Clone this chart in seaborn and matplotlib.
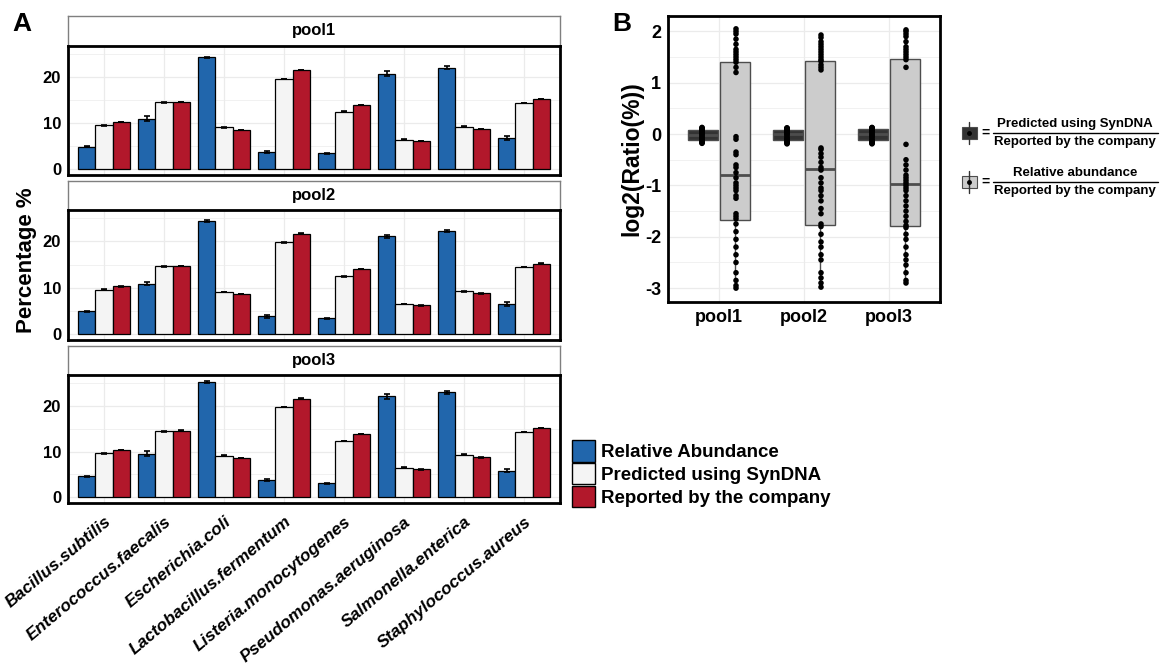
import numpy as np
import pandas as pd
import matplotlib
matplotlib.use('Agg')
import matplotlib.pyplot as plt
from matplotlib.patches import Rectangle
from matplotlib.lines import Line2D
import seaborn as sns

sns.set_style('white')
plt.rcParams['font.family'] = ['Liberation Sans', 'DejaVu Sans']
plt.rcParams['font.weight'] = 'bold'
plt.rcParams['text.color'] = 'black'
plt.rcParams['axes.labelcolor'] = 'black'
plt.rcParams['xtick.color'] = 'black'
plt.rcParams['ytick.color'] = 'black'

# ---- panel A data (percentage %) ----
species = ['Bacillus.subtilis', 'Enterococcus.faecalis', 'Escherichia.coli',
           'Lactobacillus.fermentum', 'Listeria.monocytogenes',
           'Pseudomonas.aeruginosa', 'Salmonella.enterica', 'Staphylococcus.aureus']
groups = ['Relative Abundance', 'Predicted using SynDNA', 'Reported by the company']
pools = ['pool1', 'pool2', 'pool3']

pool1_rel = [4.86, 11.0, 24.3, 3.7, 3.4, 20.8, 22.1, 6.8]
pool1_pred = [9.5, 14.5, 9.06, 19.6, 12.5, 6.4, 9.2, 14.4]
pool1_rep = [10.3, 14.6, 8.5, 21.6, 14.0, 6.1, 8.7, 15.2]
pool1_rel_err = [0.1, 0.55, 0.2, 0.25, 0.15, 0.6, 0.25, 0.5]

pool2_rel = [4.87, 10.9, 24.5, 3.8, 3.4, 21.1, 22.2, 6.5]
pool2_pred = [9.6, 14.6, 9.1, 19.8, 12.5, 6.5, 9.2, 14.5]
pool2_rep = [10.3, 14.7, 8.6, 21.7, 14.0, 6.2, 8.8, 15.2]
pool2_rel_err = [0.1, 0.3, 0.2, 0.25, 0.15, 0.35, 0.2, 0.35]

pool3_rel = [4.6, 9.5, 25.3, 3.8, 3.0, 22.1, 23.0, 5.8]
pool3_pred = [9.6, 14.4, 9.1, 19.8, 12.3, 6.45, 9.3, 14.3]
pool3_rep = [10.3, 14.6, 8.55, 21.6, 13.9, 6.1, 8.7, 15.2]
pool3_rel_err = [0.1, 0.55, 0.2, 0.25, 0.1, 0.6, 0.3, 0.35]

pred_err = [0.08] * 8
rep_err = [0.05] * 8

# ---- panel B data (log2 ratio) ----
syn_pool1 = [-0.18, -0.17, -0.16, -0.15, -0.14, -0.13, -0.12, -0.1, -0.08, -0.06, -0.04, -0.02,
             0.0, 0.02, 0.03, 0.05, 0.06, 0.07, 0.08, 0.09, 0.1, 0.11, 0.12, 0.13]
syn_pool2 = [-0.19, -0.18, -0.16, -0.15, -0.14, -0.13, -0.12, -0.1, -0.08, -0.06, -0.03, -0.01,
             0.01, 0.02, 0.04, 0.05, 0.07, 0.08, 0.09, 0.1, 0.1, 0.11, 0.12, 0.12]
syn_pool3 = [-0.19, -0.18, -0.17, -0.15, -0.14, -0.13, -0.12, -0.1, -0.07, -0.05, -0.03, -0.01,
             0.01, 0.03, 0.05, 0.06, 0.08, 0.09, 0.1, 0.11, 0.11, 0.12, 0.12, 0.13]

rel_pool1 = [-3.0, -2.95, -2.85, -2.7, -2.5, -2.35, -2.2, -2.05, -1.9, -1.75,
             -1.65, -1.6, -1.55, -1.25, -1.2, -1.1, -1.05, -1.0, -0.95, -0.85,
             -0.75, -0.65, -0.6, -0.4, -0.35, -0.1, -0.05, 1.2, 1.3, 1.4,
             1.45, 1.5, 1.55, 1.6, 1.65, 1.75, 1.85, 1.95, 2.0, 2.05]
rel_pool2 = [-2.98, -2.9, -2.8, -2.7, -2.45, -2.35, -2.2, -2.1, -1.95, -1.8,
             -1.75, -1.55, -1.45, -1.3, -1.2, -1.1, -1.05, -0.95, -0.85, -0.7,
             -0.65, -0.55, -0.45, -0.38, -0.3, -0.27, 1.25, 1.3, 1.35, 1.42,
             1.45, 1.5, 1.55, 1.6, 1.65, 1.7, 1.75, 1.8, 1.88, 1.93]
rel_pool3 = [-2.9, -2.85, -2.7, -2.55, -2.45, -2.35, -2.2, -2.05, -1.95, -1.82,
             -1.78, -1.7, -1.6, -1.5, -1.4, -1.3, -1.2, -1.1, -1.05, -1.0,
             -0.95, -0.9, -0.85, -0.8, -0.7, -0.6, -0.5, -0.2, 1.3, 1.45,
             1.5, 1.55, 1.6, 1.65, 1.7, 1.8, 1.9, 1.95, 2.0, 2.03]
ratio_types = ['syn', 'rel']

bar_colors = ['#2166AC', '#F4F4F4', '#B2182B']
W, H = 1160, 670


def fig_rect(x0, y0, x1, y1):
    return [x0 / W, 1 - y1 / H, (x1 - x0) / W, (y1 - y0) / H]


fig = plt.figure(figsize=(W / 100, H / 100), dpi=100)

pool_vals = [(pool1_rel, pool1_pred, pool1_rep, pool1_rel_err),
             (pool2_rel, pool2_pred, pool2_rep, pool2_rel_err),
             (pool3_rel, pool3_pred, pool3_rep, pool3_rel_err)]
panel_y = [(16, 46, 175), (181, 210, 340), (346, 375, 503)]

for i, (pool, (rel, pred, rep, rel_err), (ys, yp, yb)) in enumerate(zip(pools, pool_vals, panel_y)):
    df = pd.DataFrame({
        'species': species * 3,
        'group': [groups[0]] * 8 + [groups[1]] * 8 + [groups[2]] * 8,
        'pct': rel + pred + rep,
    })
    errs = rel_err + pred_err + rep_err

    sax = fig.add_axes(fig_rect(68, ys, 560, yp))
    sax.set_xticks([]); sax.set_yticks([])
    for s in sax.spines.values():
        s.set_color('#7F7F7F'); s.set_linewidth(1)
    sax.text(0.5, 0.5, pool, ha='center', va='center', fontsize=12, fontweight='bold',
             transform=sax.transAxes)

    ax = fig.add_axes(fig_rect(68, yp, 560, yb))
    sns.barplot(data=df, x='species', y='pct', hue='group', order=species, hue_order=groups,
                palette=bar_colors, saturation=1, width=0.86, edgecolor='black', linewidth=0.9,
                errorbar=None, legend=False, ax=ax, zorder=3)
    bars = [p for p in ax.patches if isinstance(p, Rectangle)]
    xs = [p.get_x() + p.get_width() / 2 for p in bars]
    hs = [p.get_height() for p in bars]
    ax.errorbar(xs, hs, yerr=errs, fmt='none', ecolor='black', elinewidth=1.2,
                capsize=2.5, capthick=1.2, zorder=4)

    ax.set_ylim(-1.3, 26.8)
    ax.set_xlim(-0.6, 7.6)
    ax.set_yticks([0, 10, 20])
    ax.set_yticks([5, 15, 25], minor=True)
    ax.set_xticks(range(8))
    ax.grid(True, which='major', color='#EBEBEB', lw=0.9, zorder=0)
    ax.grid(True, which='minor', axis='y', color='#EBEBEB', lw=0.5, zorder=0)
    ax.set_axisbelow(True)
    for s in ax.spines.values():
        s.set_color('black'); s.set_linewidth(2)
    ax.tick_params(axis='both', which='major', length=3, color='#333333', labelsize=12, pad=2)
    ax.tick_params(axis='y', which='minor', length=0)
    for t in ax.get_yticklabels():
        t.set_fontweight('bold')
    ax.set_xlabel(''); ax.set_ylabel('')
    if i < 2:
        ax.set_xticklabels([])
    else:
        ax.set_xticks(range(8), species, rotation=40, ha='right', rotation_mode='anchor',
                      fontsize=12.5, fontweight='bold', fontstyle='italic')
        ax.tick_params(axis='x', pad=5)

fig.text(27 / W, 1 - 260 / H, 'Percentage %', rotation=90, ha='center', va='center',
         fontsize=16, fontweight='bold')
fig.text(12 / W, 1 - 24 / H, 'A', ha='left', va='center', fontsize=19, fontweight='bold')
fig.text(612 / W, 1 - 24 / H, 'B', ha='left', va='center', fontsize=19, fontweight='bold')

handles = [Rectangle((0, 0), 1, 1, facecolor=c, edgecolor='black', lw=1) for c in bar_colors]
fig.legend(handles, groups, loc='upper left', bbox_to_anchor=(572 / W, 1 - 440 / H),
           frameon=False, prop=dict(weight='bold', size=13.5), handlelength=1.2,
           handleheight=1.4, labelspacing=0.06, handletextpad=0.35, borderaxespad=0,
           borderpad=0)

# ---- panel B ----
dfb = pd.DataFrame({
    'pool': ['pool1'] * len(syn_pool1) + ['pool2'] * len(syn_pool2) + ['pool3'] * len(syn_pool3)
            + ['pool1'] * len(rel_pool1) + ['pool2'] * len(rel_pool2) + ['pool3'] * len(rel_pool3),
    'type': ['syn'] * (len(syn_pool1) + len(syn_pool2) + len(syn_pool3))
            + ['rel'] * (len(rel_pool1) + len(rel_pool2) + len(rel_pool3)),
    'ratio': syn_pool1 + syn_pool2 + syn_pool3 + rel_pool1 + rel_pool2 + rel_pool3,
})

bx = fig.add_axes(fig_rect(668, 16, 940, 302))
sns.boxplot(data=dfb, x='pool', y='ratio', hue='type', order=pools, hue_order=ratio_types,
            palette=['#333333', '#CCCCCC'], saturation=1, linecolor='#4D4D4D', linewidth=1.0,
            width=0.76, gap=0.06, showcaps=False, showfliers=False, legend=False, ax=bx,
            medianprops=dict(color='#4D4D4D', linewidth=2))
sns.stripplot(data=dfb, x='pool', y='ratio', hue='type', order=pools, hue_order=ratio_types,
              palette=['black', 'black'], dodge=True, jitter=False, size=4, legend=False, ax=bx)
bx.set_xlim(-0.6, 2.6)
bx.set_ylim(-3.27, 2.3)
bx.set_yticks([-3, -2, -1, 0, 1, 2], ['-3', '-2', '-1', '0', '1', '2'])
bx.set_yticks([-2.5, -1.5, -0.5, 0.5, 1.5], minor=True)
bx.grid(True, which='major', color='#EBEBEB', lw=0.9)
bx.grid(True, which='minor', axis='y', color='#EBEBEB', lw=0.5)
bx.set_axisbelow(True)
for s in bx.spines.values():
    s.set_color('black'); s.set_linewidth(2)
bx.tick_params(axis='both', which='major', length=3, color='#333333', labelsize=13, pad=2)
bx.tick_params(axis='y', which='minor', length=0)
for t in bx.get_yticklabels() + bx.get_xticklabels():
    t.set_fontweight('bold')
bx.set_xlabel('')
bx.set_ylabel('log2(Ratio(%))', fontsize=16.5, fontweight='bold', labelpad=1)

# custom legend for panel B
for yc, fill, num in [(133, '#333333', 'Predicted using SynDNA'),
                      (182, '#CCCCCC', 'Relative abundance')]:
    fig.add_artist(Line2D([969 / W, 969 / W], [1 - (yc - 11) / H, 1 - (yc + 11) / H],
                          color='#333333', lw=1))
    fig.add_artist(Rectangle((962 / W, 1 - (yc + 6) / H), 15 / W, 12 / H,
                             facecolor=fill, edgecolor='#4D4D4D', lw=0.8,
                             transform=fig.transFigure))
    fig.add_artist(Line2D([969 / W], [1 - yc / H], marker='o', color='black', markersize=2.5))
    fig.text(985 / W, 1 - yc / H, '=', ha='center', va='center', fontsize=10, fontweight='bold')
    fig.add_artist(Line2D([993 / W, 1158 / W], [1 - yc / H, 1 - yc / H], color='black', lw=1))
    fig.text(1075 / W, 1 - (yc - 9) / H, num, ha='center', va='center', fontsize=9.5,
             fontweight='bold')
    fig.text(1075 / W, 1 - (yc + 9) / H, 'Reported by the company', ha='center', va='center',
             fontsize=9.5, fontweight='bold')

fig.savefig('out.png', dpi=100)
